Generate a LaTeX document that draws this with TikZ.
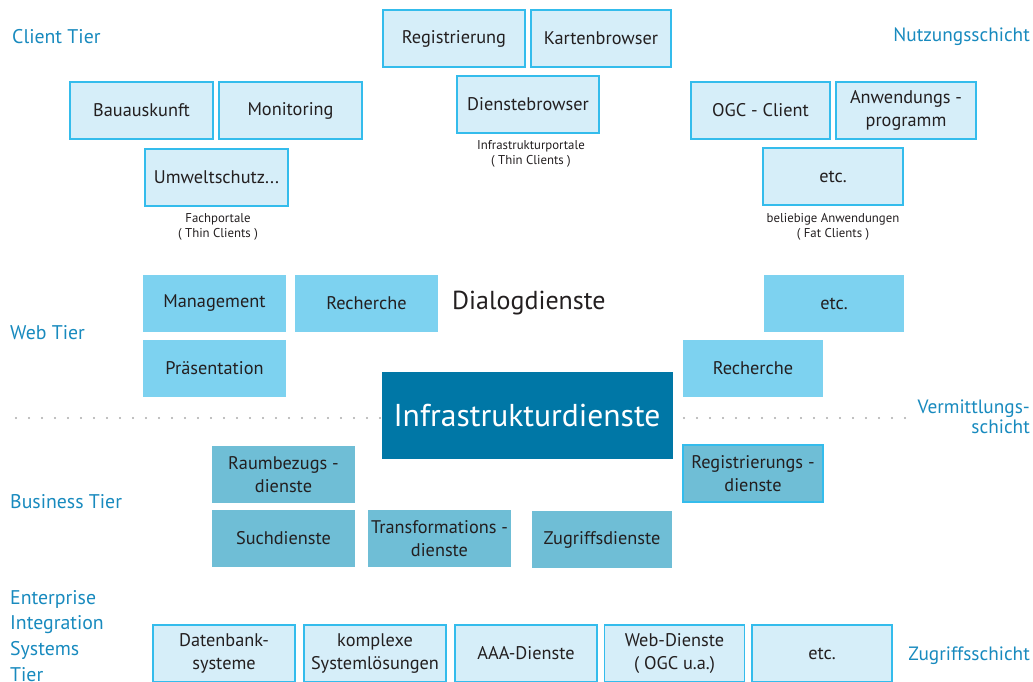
\documentclass[tikz,border=0pt]{standalone}
\usepackage{fontspec}
\setmainfont{PT Sans}
\usetikzlibrary{positioning}

\definecolor{tiertext}{RGB}{24,138,190}
\definecolor{boxtext}{RGB}{35,31,32}
\definecolor{clientfill}{RGB}{214,238,249}
\definecolor{clientline}{RGB}{52,188,236}
\definecolor{webfill}{RGB}{125,210,240}
\definecolor{busfill}{RGB}{111,190,214}
\definecolor{infrafill}{RGB}{0,119,166}
\definecolor{dotgray}{RGB}{170,170,170}

% font size and baseline skip
\newcommand{\fs}[2]{\fontsize{#1}{#2}\selectfont}

\begin{document}
\begin{tikzpicture}[x=1pt, y=-1pt,
    box/.style={rectangle, minimum width=143pt, minimum height=57pt, inner sep=0pt,
                align=center, text=boxtext, font=\fs{18.3}{23}},
    clientbox/.style={box, fill=clientfill, draw=clientline, line width=1.3pt},
    webbox/.style={box, fill=webfill},
    busbox/.style={box, fill=busfill},
    note/.style={align=center, text=boxtext, font=\fs{12.8}{15.5}, inner sep=0pt},
    tier/.style={anchor=west, text=tiertext, font=\fs{19.8}{25.7}, inner sep=0pt, align=left},
    layer/.style={anchor=east, text=tiertext, font=\fs{19.3}{20}, inner sep=0pt, align=right},
    dotline/.style={dotgray, line width=2.4pt, line cap=round, dash pattern=on 0pt off 13pt}
]
\useasboundingbox (0,0) rectangle (1033,681);
\clip (0,0) rectangle (1033,681);

% Client Tier
\node[clientbox, minimum width=142pt] (reg) at (454,38.5) {Registrierung};
\node[clientbox, minimum width=140pt] (karte) at (601,38.5) {Kartenbrowser};
\node[clientbox, minimum width=142pt] (dbrowser) at (528,104.5) {Dienstebrowser};
\node[note] (infraportal) at (531,154) {Infrastrukturportale\\( Thin Clients )};

\node[clientbox] (bau) at (141.5,110.5) {Bauauskunft};
\node[clientbox] (moni) at (290.5,110.5) {Monitoring};
\node[clientbox] (umwelt) at (216.5,177.5) {Umweltschutz...};
\node[note] (fachportal) at (218,227) {Fachportale\\( Thin Clients )};

\node[clientbox, minimum width=139pt] (ogc) at (760.5,110.5) {OGC - Client};
\node[clientbox, minimum width=140pt] (anw) at (906,110.5) {Anwendungs -\\programm};
\node[clientbox, minimum width=140pt] (etcclient) at (833,176.5) {etc.};
\node[note] (fatclient) at (833,227) {beliebige Anwendungen\\( Fat Clients )};

% Web Tier
\node[webbox] (mgmt) at (214.5,303.5) {Management};
\node[webbox] (rechl) at (366.5,303.5) {Recherche};
\node[webbox] (praes) at (214.5,368.5) {Präsentation};
\node[anchor=west, inner sep=0pt, text=boxtext, font=\fs{26}{31}] (dialog) at (452,303) {Dialogdienste};
\node[webbox, minimum width=140pt] (etcweb) at (834,303.5) {etc.};
\node[webbox, minimum width=140pt] (rechr) at (753,368.5) {Recherche};

% Infrastrukturdienste
\node[rectangle, fill=infrafill, minimum width=291pt, minimum height=87pt, inner sep=0pt,
      text=white, font=\fs{31.6}{38}] (infra) at (527,415.5) {Infrastrukturdienste};
\coordinate (dotl) at (16,418);
\coordinate (dotr) at (905,418);
\draw[dotline] (dotl) -- (dotl -| infra.west);
\draw[dotline] (dotr) -- (dotr -| infra.east);

% Business Tier
\node[busbox] (raum) at (283.5,474.5) {Raumbezugs -\\dienste};
\node[busbox, minimum width=140pt, draw=clientline, line width=1.1pt] (regd) at (753,473.5) {Registrierungs -\\dienste};
\node[busbox] (such) at (283.5,538.5) {Suchdienste};
\node[busbox] (trans) at (439.5,538.5) {Transformations -\\dienste};
\node[busbox, minimum width=140pt] (zugriff) at (602,539.5) {Zugriffsdienste};

% Enterprise Integration Systems Tier
\node[clientbox, minimum width=142pt] (datenbank) at (224,653.5) {Datenbank-\\systeme};
\node[clientbox, minimum width=142pt] (komplex) at (375,653.5) {komplexe\\Systemlösungen};
\node[clientbox, minimum width=142pt] (aaa) at (526,653.5) {AAA-Dienste};
\node[clientbox, minimum width=140pt] (webd) at (674.5,653.5) {Web-Dienste\\( OGC u.a.)};
\node[clientbox, minimum width=140pt] (etcsys) at (822,653.5) {etc.};

% tier names
\node[tier] (client) at (12,37) {Client Tier};
\node[tier] (web) at (10,333) {Web Tier};
\node[tier] (business) at (10,502) {Business Tier};
\node[tier, anchor=north west] (enterprise) at (10,590)
    {Enterprise\\Integration\\Systems\\Tier};

% layer names
\node[layer] (nutzung) at (1030,37) {Nutzungsschicht};
\node[layer] (vermittlung) at (1030,417) {Vermittlungs-\\schicht};
\node[layer] (zugriffschicht) at (1030,656) {Zugriffsschicht};
\end{tikzpicture}
\end{document}
